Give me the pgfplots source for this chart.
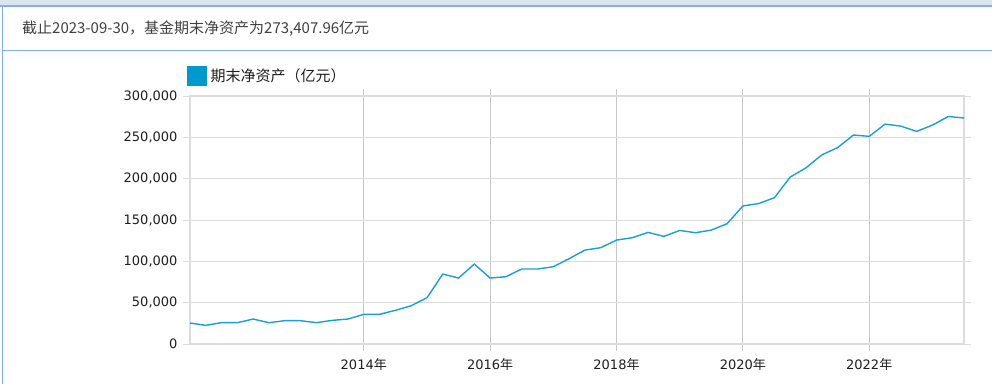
\documentclass[border=0pt]{standalone}
\usepackage{pgfplots}
\pgfplotsset{compat=1.18}
\usepackage{pgfplotstable}
\usepackage{fontspec}
\setmainfont{DejaVu Sans}
\newfontfamily\cjk{Noto Sans CJK SC}
\definecolor{linec}{HTML}{1A9FD5}
\definecolor{legc}{HTML}{0099CC}
\definecolor{frameblue}{HTML}{80B4E4}
\definecolor{topstrip}{HTML}{DCE5EF}
\definecolor{gridc}{HTML}{DCDCDC}
\definecolor{vgridc}{HTML}{C8C8C8}
\definecolor{txt}{HTML}{1E1E1E}

\pgfplotstableread{
x y
0 25400
1 22600
2 25800
3 25800
4 30200
5 25800
6 28200
7 28200
8 25800
9 28600
10 30200
11 35900
12 35900
13 40700
14 46300
15 56000
16 84600
17 79800
18 96700
19 79800
20 81400
21 90700
22 90700
23 93500
24 103200
25 113600
26 116500
27 125700
28 128600
29 135000
30 130200
31 137400
32 134600
33 137800
34 145500
35 167000
36 169900
37 177000
38 202000
39 213200
40 228800
41 237600
42 252800
43 251200
44 266000
45 263600
46 257200
47 264800
48 275200
49 273408
}\datatable

\begin{document}
\begin{tikzpicture}
\path[use as bounding box] (0pt,0pt) rectangle (992pt,-384pt);
\fill[topstrip] (0pt,0pt) rectangle (992pt,-5pt);
\draw[frameblue,line width=1.5pt] (0pt,-6pt) -- (992pt,-6pt);
\draw[frameblue,line width=1.5pt] (2.5pt,-6pt) -- (2.5pt,-384pt);
\draw[frameblue,line width=1.5pt] (2.5pt,-50.5pt) -- (992pt,-50.5pt);
\node[anchor=west,text=txt!85,font=\fontsize{15pt}{17pt}\selectfont,inner sep=0pt] at (22pt,-29pt)
  {\cjk{截止}2023-09-30\cjk{，基金期末净资产为}273,407.96\cjk{亿元}};
\begin{axis}[
  at={(190pt,-344pt)}, anchor=south west,
  scale only axis, width=774pt, height=248pt,
  xmin=0, xmax=49, ymin=0, ymax=300000,
  xtick={11,19,27,35,43},
  xticklabels={{2014\cjk{年}},{2016\cjk{年}},{2018\cjk{年}},{2020\cjk{年}},{2022\cjk{年}}},
  ytick={0,50000,100000,150000,200000,250000,300000},
  scaled y ticks=false,
  /pgf/number format/.cd, fixed, 1000 sep={,}, assume math mode=true,
  /pgfplots/.cd,
  xmajorgrids, ymajorgrids,
  x grid style={vgridc, line width=1pt},
  y grid style={gridc, line width=1pt},
  axis line style={draw=gridc, line width=1.2pt},
  tick align=outside,
  major tick length=7pt,
  xtick style={vgridc, line width=1pt},
  ytick style={gridc, line width=1pt},
  tick label style={font=\fontsize{13pt}{15pt}\selectfont, text=txt},
  yticklabel style={xshift=-2pt},
  xticklabel style={yshift=-4pt},
  legend style={draw=none, fill=none, at={(0,1)}, anchor=south west,
    xshift=-6pt, yshift=8pt,
    font=\fontsize{15pt}{17pt}\selectfont, text=txt},
  legend image code/.code={\fill[legc] (0pt,-9pt) rectangle (18pt,9pt);},
  legend cell align=left,
]
\draw[gridc, line width=2.2pt] (rel axis cs:0,0) -- (rel axis cs:1,0);
\addplot[linec, line width=1.4pt, mark=none] table[x=x,y=y]{\datatable};
\addlegendentry{\hspace{2pt}\cjk{期末净资产（亿元）}}
\end{axis}
\end{tikzpicture}
\end{document}
